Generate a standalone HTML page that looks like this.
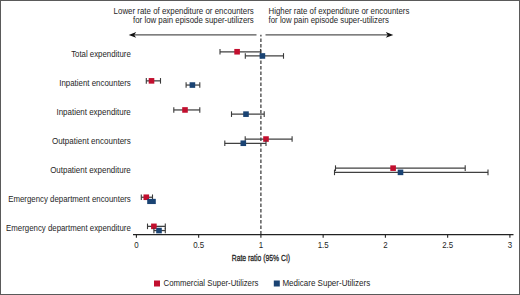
<!DOCTYPE html>
<html><head><meta charset="utf-8"><style>
html,body{margin:0;padding:0;background:#fff;}
.wrap{position:relative;width:520px;height:295px;overflow:hidden;background:#fff;}
.bd{position:absolute;left:0;top:0;width:518px;height:293px;border:1px solid #5a5a5a;}
svg{position:absolute;left:0;top:0;}
svg text{font-family:"Liberation Sans",sans-serif;fill:#1e1e1e;}
</style></head><body><div class="wrap"><div class="bd"></div>
<svg width="520" height="295" viewBox="0 0 520 295">
<line x1="260.90" y1="34.8" x2="260.90" y2="234.5" stroke="#3a3a3a" stroke-width="1.25" stroke-dasharray="3.4 2.1" stroke-dashoffset="1.7"/>
<line x1="133" y1="34.9" x2="256.5" y2="34.9" stroke="#555" stroke-width="1.3"/>
<path d="M128.7 34.9 L136.2 32.0 L134.2 34.9 L136.2 37.8 Z" fill="#111"/>
<line x1="265.5" y1="34.9" x2="389" y2="34.9" stroke="#555" stroke-width="1.3"/>
<path d="M393.3 34.9 L385.8 32.0 L387.8 34.9 L385.8 37.8 Z" fill="#111"/>
<text transform="translate(253.80 13.90) scale(0.966 1)" text-anchor="end" font-size="8.2">Lower rate of expenditure or encounters</text>
<text transform="translate(253.80 23.40) scale(0.958 1)" text-anchor="end" font-size="8.2">for low pain episode super-utilizers</text>
<text transform="translate(268.60 13.90) scale(0.957 1)" font-size="8.2">Higher rate of expenditure or encounters</text>
<text transform="translate(268.60 23.40) scale(0.954 1)" font-size="8.2">for low pain episode super-utilizers</text>
<text transform="translate(130.80 56.55) scale(0.956 1)" text-anchor="end" font-size="8.2">Total expenditure</text>
<line x1="220.00" y1="51.75" x2="260.50" y2="51.75" stroke="#404040" stroke-width="1.25"/>
<line x1="220.00" y1="48.95" x2="220.00" y2="54.55" stroke="#3a3a3a" stroke-width="1.1"/>
<line x1="260.50" y1="48.95" x2="260.50" y2="54.55" stroke="#3a3a3a" stroke-width="1.1"/>
<rect x="234.30" y="48.95" width="5.6" height="5.6" fill="#c20f2e"/>
<line x1="245.30" y1="55.95" x2="283.50" y2="55.95" stroke="#404040" stroke-width="1.25"/>
<line x1="245.30" y1="53.15" x2="245.30" y2="58.75" stroke="#3a3a3a" stroke-width="1.1"/>
<line x1="283.50" y1="53.15" x2="283.50" y2="58.75" stroke="#3a3a3a" stroke-width="1.1"/>
<rect x="259.60" y="53.15" width="5.6" height="5.6" fill="#1a4373"/>
<text transform="translate(130.80 85.65) scale(0.964 1)" text-anchor="end" font-size="8.2">Inpatient encounters</text>
<line x1="146.30" y1="80.85" x2="160.50" y2="80.85" stroke="#404040" stroke-width="1.25"/>
<line x1="146.30" y1="78.05" x2="146.30" y2="83.65" stroke="#3a3a3a" stroke-width="1.1"/>
<line x1="160.50" y1="78.05" x2="160.50" y2="83.65" stroke="#3a3a3a" stroke-width="1.1"/>
<rect x="148.70" y="78.05" width="5.6" height="5.6" fill="#c20f2e"/>
<line x1="186.10" y1="85.05" x2="199.80" y2="85.05" stroke="#404040" stroke-width="1.25"/>
<line x1="186.10" y1="82.25" x2="186.10" y2="87.85" stroke="#3a3a3a" stroke-width="1.1"/>
<line x1="199.80" y1="82.25" x2="199.80" y2="87.85" stroke="#3a3a3a" stroke-width="1.1"/>
<rect x="189.60" y="82.25" width="5.6" height="5.6" fill="#1a4373"/>
<text transform="translate(130.80 114.75) scale(0.972 1)" text-anchor="end" font-size="8.2">Inpatient expenditure</text>
<line x1="173.80" y1="109.95" x2="199.80" y2="109.95" stroke="#404040" stroke-width="1.25"/>
<line x1="173.80" y1="107.15" x2="173.80" y2="112.75" stroke="#3a3a3a" stroke-width="1.1"/>
<line x1="199.80" y1="107.15" x2="199.80" y2="112.75" stroke="#3a3a3a" stroke-width="1.1"/>
<rect x="182.20" y="107.15" width="5.6" height="5.6" fill="#c20f2e"/>
<line x1="231.50" y1="114.15" x2="264.20" y2="114.15" stroke="#404040" stroke-width="1.25"/>
<line x1="231.50" y1="111.35" x2="231.50" y2="116.95" stroke="#3a3a3a" stroke-width="1.1"/>
<line x1="264.20" y1="111.35" x2="264.20" y2="116.95" stroke="#3a3a3a" stroke-width="1.1"/>
<rect x="243.20" y="111.35" width="5.6" height="5.6" fill="#1a4373"/>
<text transform="translate(130.80 143.85) scale(0.978 1)" text-anchor="end" font-size="8.2">Outpatient encounters</text>
<line x1="245.20" y1="139.05" x2="292.10" y2="139.05" stroke="#404040" stroke-width="1.25"/>
<line x1="245.20" y1="136.25" x2="245.20" y2="141.85" stroke="#3a3a3a" stroke-width="1.1"/>
<line x1="292.10" y1="136.25" x2="292.10" y2="141.85" stroke="#3a3a3a" stroke-width="1.1"/>
<rect x="263.20" y="136.25" width="5.6" height="5.6" fill="#c20f2e"/>
<line x1="224.80" y1="143.25" x2="266.00" y2="143.25" stroke="#404040" stroke-width="1.25"/>
<line x1="224.80" y1="140.45" x2="224.80" y2="146.05" stroke="#3a3a3a" stroke-width="1.1"/>
<line x1="266.00" y1="140.45" x2="266.00" y2="146.05" stroke="#3a3a3a" stroke-width="1.1"/>
<rect x="240.50" y="140.45" width="5.6" height="5.6" fill="#1a4373"/>
<text transform="translate(130.80 172.95) scale(0.974 1)" text-anchor="end" font-size="8.2">Outpatient expenditure</text>
<line x1="335.50" y1="168.15" x2="465.20" y2="168.15" stroke="#404040" stroke-width="1.25"/>
<line x1="335.50" y1="165.35" x2="335.50" y2="170.95" stroke="#3a3a3a" stroke-width="1.1"/>
<line x1="465.20" y1="165.35" x2="465.20" y2="170.95" stroke="#3a3a3a" stroke-width="1.1"/>
<rect x="390.30" y="165.35" width="5.6" height="5.6" fill="#c20f2e"/>
<line x1="334.50" y1="172.35" x2="488.00" y2="172.35" stroke="#404040" stroke-width="1.25"/>
<line x1="334.50" y1="169.55" x2="334.50" y2="175.15" stroke="#3a3a3a" stroke-width="1.1"/>
<line x1="488.00" y1="169.55" x2="488.00" y2="175.15" stroke="#3a3a3a" stroke-width="1.1"/>
<rect x="397.70" y="169.55" width="5.6" height="5.6" fill="#1a4373"/>
<text transform="translate(130.80 202.05) scale(0.96 1)" text-anchor="end" font-size="8.2">Emergency department encounters</text>
<line x1="141.30" y1="197.25" x2="152.50" y2="197.25" stroke="#404040" stroke-width="1.25"/>
<line x1="141.30" y1="194.45" x2="141.30" y2="200.05" stroke="#3a3a3a" stroke-width="1.1"/>
<line x1="152.50" y1="194.45" x2="152.50" y2="200.05" stroke="#3a3a3a" stroke-width="1.1"/>
<rect x="143.50" y="194.45" width="5.6" height="5.6" fill="#c20f2e"/>
<rect x="147.2" y="198.85" width="8.6" height="5.2" fill="#1a4373"/>
<text transform="translate(130.80 231.15) scale(0.959 1)" text-anchor="end" font-size="8.2">Emergency department expenditure</text>
<line x1="147.50" y1="226.35" x2="165.30" y2="226.35" stroke="#404040" stroke-width="1.25"/>
<line x1="147.50" y1="223.55" x2="147.50" y2="229.15" stroke="#3a3a3a" stroke-width="1.1"/>
<line x1="165.30" y1="223.55" x2="165.30" y2="229.15" stroke="#3a3a3a" stroke-width="1.1"/>
<rect x="151.10" y="223.55" width="5.6" height="5.6" fill="#c20f2e"/>
<line x1="153.90" y1="230.55" x2="165.30" y2="230.55" stroke="#404040" stroke-width="1.25"/>
<line x1="153.90" y1="227.75" x2="153.90" y2="233.35" stroke="#3a3a3a" stroke-width="1.1"/>
<line x1="165.30" y1="227.75" x2="165.30" y2="233.35" stroke="#3a3a3a" stroke-width="1.1"/>
<rect x="156.20" y="227.75" width="5.6" height="5.6" fill="#1a4373"/>
<line x1="133" y1="234.6" x2="513.5" y2="234.6" stroke="#222" stroke-width="1.3"/>
<line x1="136.40" y1="234" x2="136.40" y2="237.8" stroke="#222" stroke-width="1.1"/>
<text transform="translate(136.40 247.80) scale(0.965 1)" text-anchor="middle" font-size="8.2">0</text>
<line x1="198.65" y1="234" x2="198.65" y2="237.8" stroke="#222" stroke-width="1.1"/>
<text transform="translate(198.65 247.80) scale(0.965 1)" text-anchor="middle" font-size="8.2">0.5</text>
<line x1="260.90" y1="234" x2="260.90" y2="237.8" stroke="#222" stroke-width="1.1"/>
<text transform="translate(260.90 247.80) scale(0.965 1)" text-anchor="middle" font-size="8.2">1</text>
<line x1="323.15" y1="234" x2="323.15" y2="237.8" stroke="#222" stroke-width="1.1"/>
<text transform="translate(323.15 247.80) scale(0.965 1)" text-anchor="middle" font-size="8.2">1.5</text>
<line x1="385.40" y1="234" x2="385.40" y2="237.8" stroke="#222" stroke-width="1.1"/>
<text transform="translate(385.40 247.80) scale(0.965 1)" text-anchor="middle" font-size="8.2">2</text>
<line x1="447.65" y1="234" x2="447.65" y2="237.8" stroke="#222" stroke-width="1.1"/>
<text transform="translate(447.65 247.80) scale(0.965 1)" text-anchor="middle" font-size="8.2">2.5</text>
<line x1="509.90" y1="234" x2="509.90" y2="237.8" stroke="#222" stroke-width="1.1"/>
<text transform="translate(509.90 247.80) scale(0.965 1)" text-anchor="middle" font-size="8.2">3</text>
<text x="0" y="0" font-size="9.9" transform="translate(231.7 261.4) scale(0.69 1)" fill="#1a1a1a" stroke="#1a1a1a" stroke-width="0.3">Rate ratio (95% CI)</text>
<rect x="154" y="280.5" width="6" height="6" fill="#c20f2e"/>
<text transform="translate(163.50 285.90) scale(0.951 1)" font-size="8.2">Commercial Super-Utilizers</text>
<rect x="273.8" y="280.5" width="6" height="6" fill="#1a4373"/>
<text transform="translate(282.40 285.90) scale(0.978 1)" font-size="8.2">Medicare Super-Utilizers</text>
</svg></div></body></html>
